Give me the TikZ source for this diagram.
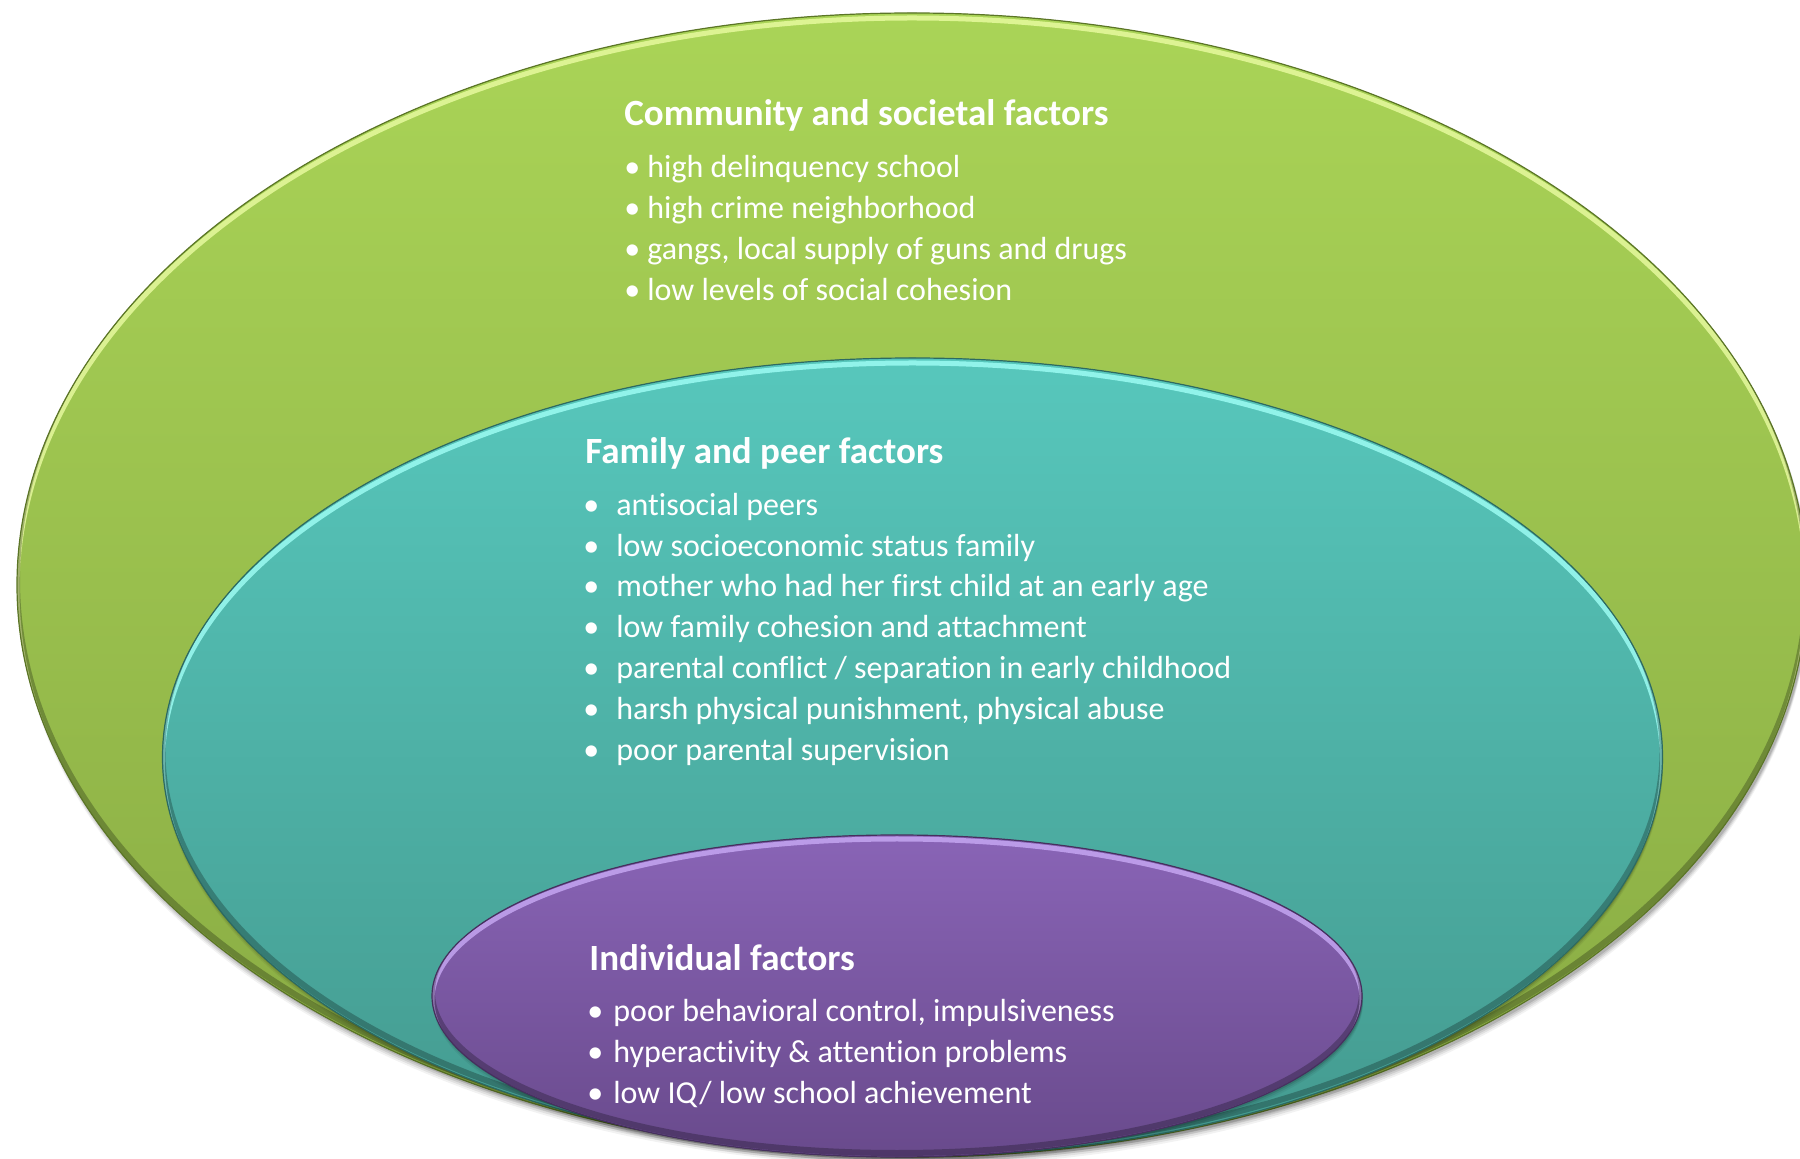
\documentclass[tikz,border=0pt]{standalone}
\usepackage{fontspec}
\setmainfont{Carlito}[Ligatures=NoCommon]
\begin{document}
\begin{tikzpicture}[x=0.5pt,y=-0.5pt,
  title/.style={anchor=base west,inner sep=0pt,text=white,font=\fontsize{18.5}{22}\selectfont\bfseries},
  item/.style={anchor=base west,inner sep=0pt,text=white,font=\fontsize{16}{19}\selectfont},
]
\definecolor{gTop}{HTML}{AAD457}
\definecolor{gBot}{HTML}{88AA43}
\definecolor{gEdge}{HTML}{5B7526}
\definecolor{gHi}{HTML}{EFFFA8}
\definecolor{tTop}{HTML}{57C7BC}
\definecolor{tBot}{HTML}{449A8F}
\definecolor{tEdge}{HTML}{2C6A62}
\definecolor{tHi}{HTML}{A0FFF6}
\definecolor{pTop}{HTML}{8964B6}
\definecolor{pBot}{HTML}{694A8C}
\definecolor{pEdge}{HTML}{46305E}
\definecolor{pHi}{HTML}{D2B4FF}
\useasboundingbox (0,0) rectangle (1800,1159);
\fill[white] (0,0) rectangle (1800,1159);

% shadow of outer ellipse
\foreach \d/\o in {9/0.05,7/0.07,5/0.09,3/0.12}
  \fill[black,opacity=\o] (914,585+\d) ellipse [x radius=447.5pt, y radius=286pt];

% ---------- outer green ellipse ----------
\coordinate (cO) at (912,585);
\begin{scope}
  \clip (cO) ellipse [x radius=447.5pt, y radius=286pt];
  \fill[top color=gTop,bottom color=gBot] (cO) ellipse [x radius=447.5pt, y radius=286pt];
  \draw[gHi,opacity=0.75,line width=2.5pt] (912,590) ellipse [x radius=447.5pt, y radius=286pt];
  \draw[black,opacity=0.25,line width=3pt] (912,580) ellipse [x radius=447.5pt, y radius=286pt];
\end{scope}
\draw[gEdge,line width=0.6pt] (cO) ellipse [x radius=447.5pt, y radius=286pt];

% shadow of teal
\foreach \d/\o in {6/0.05,4/0.08,2/0.12}
  \fill[black,opacity=\o] (913,757+\d) ellipse [x radius=375pt, y radius=199.5pt];

% ---------- teal ellipse ----------
\coordinate (cT) at (912.5,757);
\begin{scope}
  \clip (cT) ellipse [x radius=375pt, y radius=199.5pt];
  \fill[top color=tTop,bottom color=tBot] (cT) ellipse [x radius=375pt, y radius=199.5pt];
  \draw[tHi,opacity=0.8,line width=2.5pt] (912.5,762) ellipse [x radius=375pt, y radius=199.5pt];
  \draw[black,opacity=0.25,line width=3pt] (912.5,752) ellipse [x radius=375pt, y radius=199.5pt];
\end{scope}
\draw[tEdge,line width=0.6pt] (cT) ellipse [x radius=375pt, y radius=199.5pt];

% shadow of purple
\foreach \d/\o in {6/0.05,4/0.08,2/0.12}
  \fill[black,opacity=\o] (898,996+\d) ellipse [x radius=232.5pt, y radius=80.5pt];

% ---------- purple ellipse ----------
\coordinate (cP) at (897,996);
\begin{scope}
  \clip (cP) ellipse [x radius=232.5pt, y radius=80.5pt];
  \fill[top color=pTop,bottom color=pBot] (cP) ellipse [x radius=232.5pt, y radius=80.5pt];
  \draw[pHi,opacity=0.7,line width=2.5pt] (897,1000) ellipse [x radius=232.5pt, y radius=80.5pt];
  \draw[black,opacity=0.25,line width=3pt] (897,992) ellipse [x radius=232.5pt, y radius=80.5pt];
\end{scope}
\draw[pEdge,line width=0.6pt] (cP) ellipse [x radius=232.5pt, y radius=80.5pt];

% ---------- Community texts ----------
\node[title] (ct) at (624,125.5) {Community and societal factors};
\node[item] (c1) at (624,177.5) {\makebox[11.5pt][l]{•}high delinquency school};
\node[item] (c2) at (624,218.5) {\makebox[11.5pt][l]{•}high crime neighborhood};
\node[item] (c3) at (624,259.5) {\makebox[11.5pt][l]{•}gangs, local supply of guns and drugs};
\node[item] (c4) at (624,300.5) {\makebox[11.5pt][l]{•}low levels of social cohesion};

% ---------- Family texts ----------
\node[title] (ft) at (585,463.5) {Family and peer factors};
\node[item] (f1) at (583,515.5) {\makebox[16.5pt][l]{•}antisocial peers};
\node[item] (f2) at (583,556.5) {\makebox[16.5pt][l]{•}low socioeconomic status family};
\node[item] (f3) at (583,597) {\makebox[16.5pt][l]{•}mother who had her first child at an early age};
\node[item] (f4) at (583,638) {\makebox[16.5pt][l]{•}low family cohesion and attachment};
\node[item] (f5) at (583,679) {\makebox[16.5pt][l]{•}parental conflict / separation in early childhood};
\node[item] (f6) at (583,719.5) {\makebox[16.5pt][l]{•}harsh physical punishment, physical abuse};
\node[item] (f7) at (583,760.5) {\makebox[16.5pt][l]{•}poor parental supervision};

% ---------- Individual texts ----------
\node[title] (it) at (589,970.5) {Individual factors};
\node[item] (i1) at (587,1021.5) {\makebox[13pt][l]{•}poor behavioral control, impulsiveness};
\node[item] (i2) at (587,1062.5) {\makebox[13pt][l]{•}hyperactivity \& attention problems};
\node[item] (i3) at (587,1103.5) {\makebox[13pt][l]{•}low IQ/ low school achievement};
\end{tikzpicture}
\end{document}
